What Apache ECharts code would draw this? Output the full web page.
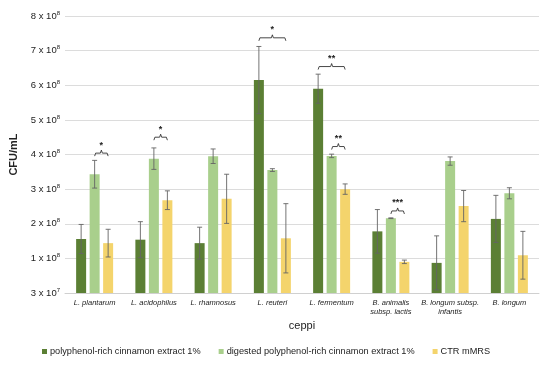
<!DOCTYPE html>
<html>
<head>
<meta charset="utf-8">
<script src="https://cdn.jsdelivr.net/npm/echarts@6/dist/echarts.min.js"></script>
<style>html,body{margin:0;padding:0;background:#fff}#c{width:550px;height:366px}</style>
</head>
<body>
<div id="c"></div>
<script>
// Data (values in units of 1e8 CFU/mL)
var categories = ['L. plantarum','L. acidophilus','L. rhamnosus','L. reuteri','L. fermentum','B. animalis\nsubsp. lactis','B. longum subsp.\ninfantis','B. longum'];
var seriesNames = ['polyphenol-rich cinnamon extract 1%','digested polyphenol-rich cinnamon extract 1%','CTR mMRS'];
var extractValues   = [1.56, 1.54, 1.44, 6.15, 5.90, 1.78, 0.87, 2.14];
var extractErr      = [0.42, 0.52, 0.46, 0.97, 0.42, 0.63, 0.78, 0.68];
var digestedValues  = [3.43, 3.88, 3.95, 3.55, 3.96, 2.16, 3.81, 2.88];
var digestedErr     = [0.40, 0.31, 0.21, 0.04, 0.05, 0.01, 0.12, 0.16];
var ctrValues       = [1.44, 2.68, 2.72, 1.58, 3.00, 0.90, 2.51, 1.09];
var ctrErr          = [0.40, 0.27, 0.71, 1.00, 0.15, 0.05, 0.45, 0.69];
var yTickMantissa = ['3','1','2','3','4','5','6','7','8'];
var yTickExp      = ['7','8','8','8','8','8','8','8','8'];
// significance brackets: [category, fromSeries, toSeries, value, label]
var brackets = [
  [0, 1, 2, 4.04, '*'],
  [1, 1, 2, 4.50, '*'],
  [3, 0, 2, 7.37, '*'],
  [4, 0, 2, 6.54, '**'],
  [4, 1, 2, 4.23, '**'],
  [5, 1, 2, 2.37, '***']
];

var colors = ['#5b7f34', '#a9cf8c', '#f4d46c'];
var BAR_W = 10, BAR_STEP = 13.5;

function errData(vals, errs) {
  return vals.map(function (v, i) { return [i, v - errs[i], v + errs[i]]; });
}
function errSeries(idx, vals, errs) {
  return {
    type: 'custom', silent: true, z: 5,
    data: errData(vals, errs),
    renderItem: function (params, api) {
      var off = (idx - 1) * BAR_STEP;
      var lo = api.coord([api.value(0), api.value(1)]);
      var hi = api.coord([api.value(0), api.value(2)]);
      var x = lo[0] + off, c = 2.5;
      var st = { stroke: '#646464', lineWidth: 0.9 };
      return { type: 'group', children: [
        { type: 'line', shape: { x1: x, y1: lo[1], x2: x, y2: hi[1] }, style: st },
        { type: 'line', shape: { x1: x - c, y1: lo[1], x2: x + c, y2: lo[1] }, style: st },
        { type: 'line', shape: { x1: x - c, y1: hi[1], x2: x + c, y2: hi[1] }, style: st }
      ]};
    }
  };
}

var chart = echarts.init(document.getElementById('c'));
chart.setOption({
  animation: false,
  color: colors,
  textStyle: { fontFamily: 'Liberation Sans, Arial, sans-serif' },
  grid: { left: 60, right: 11, top: 16, bottom: 73, containLabel: false },
  legend: {
    bottom: 5, left: 37, icon: 'rect', itemWidth: 5, itemHeight: 5, itemGap: 18,
    textStyle: { fontSize: 9.2, color: '#222', padding: [0, 0, 0, -2] },
    data: seriesNames
  },
  xAxis: {
    type: 'category', data: categories,
    name: 'ceppi', nameLocation: 'middle', nameGap: 27,
    nameTextStyle: { fontSize: 11, color: '#222' },
    axisLine: { lineStyle: { color: '#d0d0d0' } },
    axisTick: { show: false },
    axisLabel: { fontSize: 7.5, fontStyle: 'italic', color: '#222', margin: 5, interval: 0, lineHeight: 9 }
  },
  yAxis: {
    type: 'value', min: 0, max: 8, interval: 1,
    name: 'CFU/mL', nameLocation: 'middle', nameGap: 46,
    nameTextStyle: { fontSize: 11, fontWeight: 'bold', color: '#222' },
    splitLine: { lineStyle: { color: '#dcdcdc' } },
    axisLine: { show: false }, axisTick: { show: false },
    axisLabel: {
      margin: 5, color: '#222',
      formatter: function (v) { var i = Math.round(v); return '{b|' + yTickMantissa[i] + ' x 10}{s|' + yTickExp[i] + '}'; },
      rich: { b: { fontSize: 9.5, color: '#222' }, s: { fontSize: 6, color: '#222', verticalAlign: 'top', padding: [0, 0, 6, 0] } }
    }
  },
  series: [
    { name: seriesNames[0], type: 'bar', data: extractValues, barWidth: BAR_W, barGap: '35%' },
    { name: seriesNames[1], type: 'bar', data: digestedValues, barWidth: BAR_W, barGap: '35%' },
    { name: seriesNames[2], type: 'bar', data: ctrValues, barWidth: BAR_W, barGap: '35%' },
    errSeries(0, extractValues, extractErr),
    errSeries(1, digestedValues, digestedErr),
    errSeries(2, ctrValues, ctrErr),
    {
      type: 'custom', silent: true, z: 6,
      data: brackets,
      renderItem: function (params, api) {
        var cat = api.value(0);
        var p = api.coord([cat, api.value(3)]);
        var x1 = p[0] + (api.value(1) - 1) * BAR_STEP;
        var x2 = p[0] + (api.value(2) - 1) * BAR_STEP;
        var y = p[1], xm = (x1 + x2) / 2;
        var st = { stroke: '#333', lineWidth: 0.9, fill: null };
        return { type: 'group', children: [
          { type: 'polyline', shape: { points: [[x1, y + 3], [x1 + 1, y], [xm - 1, y], [xm, y - 3], [xm + 1, y], [x2 - 1, y], [x2, y + 3]] }, style: st },
          { type: 'text', style: { text: brackets[params.dataIndex][4], x: xm, y: y - 3.5, textAlign: 'center', textVerticalAlign: 'bottom', fontSize: 9, fontWeight: 'bold', fill: '#222' } }
        ]};
      }
    }
  ]
});
</script>
</body>
</html>
